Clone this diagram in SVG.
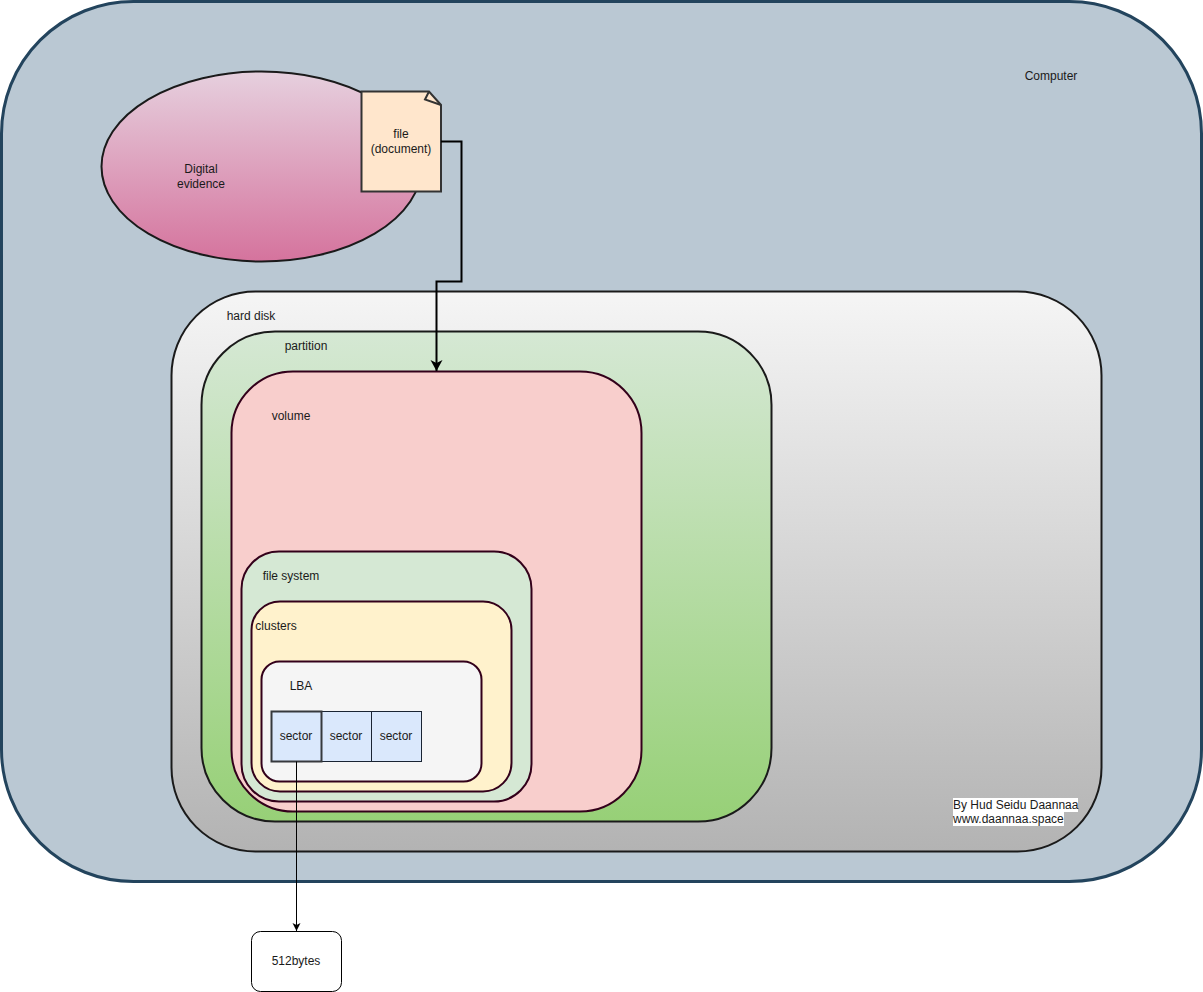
<svg xmlns="http://www.w3.org/2000/svg" width="1203" height="992" viewBox="0 0 1203 992">
<style>
text{font-family:"Liberation Sans",Arial,sans-serif;font-size:12px;fill:#1a1a1a}
.m{text-anchor:middle}
.s{stroke-width:2}
.d{stroke:#1a1a1a;stroke-width:2}
.r{stroke:#33001a;stroke-width:2}
.c{fill:none;stroke:#000}
</style>
<defs>
<linearGradient id="gE" x1="0" y1="0" x2="0" y2="1"><stop offset="0" stop-color="#e6d0de"/><stop offset="1" stop-color="#d5739d"/></linearGradient>
<linearGradient id="gH" x1="0" y1="0" x2="0" y2="1"><stop offset="0" stop-color="#f5f5f5"/><stop offset="1" stop-color="#b3b3b3"/></linearGradient>
<linearGradient id="gP" x1="0" y1="0" x2="0" y2="1"><stop offset="0" stop-color="#d5e8d4"/><stop offset="1" stop-color="#97d077"/></linearGradient>
<marker id="a" markerUnits="userSpaceOnUse" markerWidth="10" markerHeight="10" refX="8" refY="5" orient="auto"><path d="M0 1L8 5L0 9L2 5Z" fill="#000"/></marker>
<marker id="b" markerUnits="userSpaceOnUse" markerWidth="14" markerHeight="14" refX="11" refY="7" orient="auto"><path d="M0 1L11 7L0 13L3 7Z" fill="#000"/></marker>
</defs>
<rect width="1203" height="992" fill="#fff"/>
<g id="computer"><rect x="1.5" y="1.500" width="1200" height="880" rx="132" fill="#bac8d3" stroke="#23445d" stroke-width="3"/><text class="m" x="1051" y="80">Computer</text></g>
<g id="digital-evidence"><ellipse cx="261.500" cy="166.500" rx="160" ry="95" fill="url(#gE)" class="d"/><text class="m" x="201" y="173">Digital</text><text class="m" x="201" y="188">evidence</text></g>
<g id="hard-disk"><rect x="171.500" y="291.500" width="930" height="560" rx="84" fill="url(#gH)" class="d"/><text class="m" x="251" y="320">hard disk</text></g>
<g id="partition"><rect x="201.500" y="331.500" width="570" height="490" rx="73.500" fill="url(#gP)" class="d"/><text class="m" x="306" y="350">partition</text></g>
<g id="volume"><rect x="231.500" y="371.500" width="410" height="440" rx="61.500" fill="#f8cecc" class="r"/><text class="m" x="291" y="420">volume</text></g>
<g id="file-system"><rect x="241.500" y="551.500" width="290" height="250" rx="37.500" fill="#d5e8d4" class="r"/><text class="m" x="291" y="580">file system</text></g>
<g id="clusters"><rect x="251.500" y="601.500" width="260" height="190" rx="28.500" fill="#fff2cc" class="r"/><text class="m" x="276" y="630">clusters</text></g>
<g id="lba"><rect x="261.500" y="661.500" width="220" height="120" rx="18" fill="#f5f5f5" class="r"/><text class="m" x="301" y="690">LBA</text></g>
<g id="sector-2"><rect x="321.500" y="711.500" width="50" height="50" fill="#dae8fc" stroke="#1a2433"/><text class="m" x="346" y="740">sector</text></g>
<g id="sector-3"><rect x="371.500" y="711.500" width="50" height="50" fill="#dae8fc" stroke="#1a2433"/><text class="m" x="396" y="740">sector</text></g>
<g id="sector-1"><rect x="271.500" y="711.500" width="50" height="50" fill="#dae8fc" stroke="#36393d" stroke-width="2"/><text class="m" x="296" y="740">sector</text></g>
<g id="file"><path d="M361.500 91.500H429L441 105V191.500H361.500Z" fill="#ffe6cc" stroke="#333" stroke-width="2"/><path d="M429 91.500L425 99.500L441 105" fill="none" stroke="#333" stroke-width="2"/><text class="m" x="401" y="138">file</text><text class="m" x="401" y="153">(document)</text></g>
<g id="bytes"><rect x="251.500" y="931.500" width="90" height="60" rx="9" fill="#fff" stroke="#000"/><text class="m" x="296" y="965">512bytes</text></g>
<g id="credit"><rect x="953" y="798" width="125" height="14" fill="#fff"/><rect x="953" y="812" width="111" height="14" fill="#fff"/><text x="953" y="809">By Hud Seidu Daannaa</text><text x="953" y="823">www.daannaa.space</text></g>
<g id="connectors">
<path class="c" stroke-width="2" d="M441 141.500H461.500V281.500H436.500V371" marker-end="url(#b)"/>
<path class="c" d="M296.500 761.500V931" marker-end="url(#a)"/>
</g>
</svg>
